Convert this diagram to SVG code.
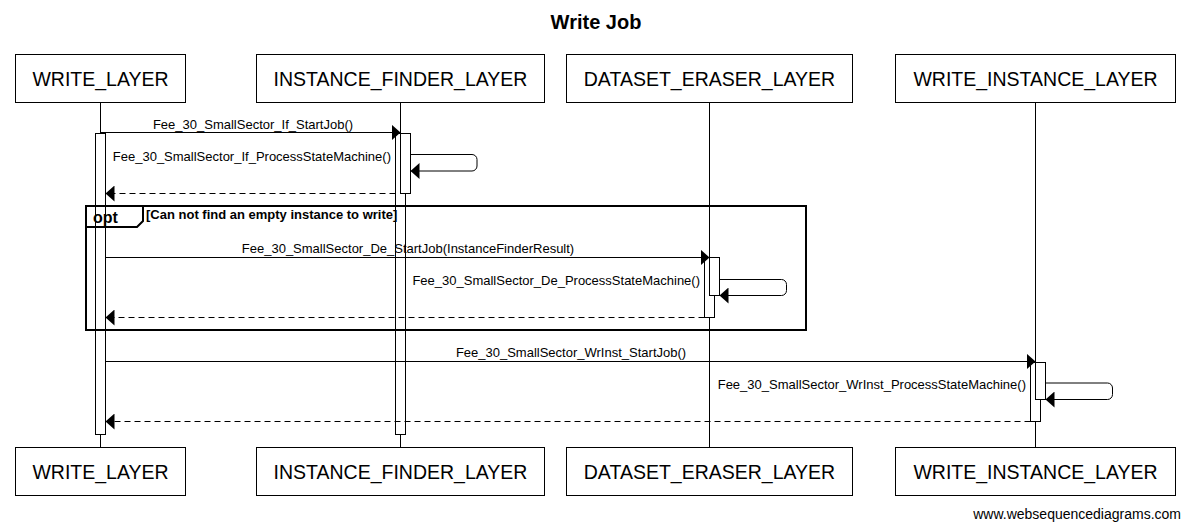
<svg xmlns="http://www.w3.org/2000/svg" width="1190" height="530" viewBox="0 0 1190 530">
<style>
.box{fill:#fff;stroke:#000;stroke-width:1}
.pt{font-family:"Liberation Sans",Arial,sans-serif;font-size:19.5px;fill:#000;text-anchor:middle}
.life{stroke:#000;stroke-width:1}
.bar{fill:#fff;stroke:#000;stroke-width:1}
.msg{stroke:#000;stroke-width:1;fill:none;marker-end:url(#ah)}
.ret{stroke:#000;stroke-width:1;fill:none;stroke-dasharray:6,4;marker-end:url(#ah)}
.lbl{font-family:"Liberation Sans",Arial,sans-serif;font-size:13px;fill:#000}
.mid{text-anchor:middle}
.end{text-anchor:end}
.frame{fill:none;stroke:#000;stroke-width:2}
</style>
<defs>
<marker id="ah" markerWidth="10" markerHeight="16" refX="9" refY="8" orient="auto" markerUnits="userSpaceOnUse"><path d="M0,0 L9,8 L0,16 z" fill="#000"/></marker>
</defs>
<rect width="1190" height="530" fill="#fff"/>
<text x="596" y="29" font-family="Liberation Sans,Arial,sans-serif" font-size="20px" font-weight="bold" text-anchor="middle">Write Job</text>

<g id="lifelines">
<line class="life" x1="100.5" y1="102" x2="100.5" y2="447"/>
<line class="life" x1="400.5" y1="102" x2="400.5" y2="447"/>
<line class="life" x1="709.5" y1="102" x2="709.5" y2="447"/>
<line class="life" x1="1035.5" y1="102" x2="1035.5" y2="447"/>
</g>

<g id="WRITE_LAYER">
<rect class="box" x="15.5" y="54.5" width="170" height="48"/>
<text class="pt" x="100.5" y="86">WRITE_LAYER</text>
<rect class="box" x="15.5" y="447.5" width="170" height="48"/>
<text class="pt" x="100.5" y="479">WRITE_LAYER</text>
</g>
<g id="INSTANCE_FINDER_LAYER">
<rect class="box" x="256.5" y="54.5" width="288" height="48"/>
<text class="pt" x="400.5" y="86">INSTANCE_FINDER_LAYER</text>
<rect class="box" x="256.5" y="447.5" width="288" height="48"/>
<text class="pt" x="400.5" y="479">INSTANCE_FINDER_LAYER</text>
</g>
<g id="DATASET_ERASER_LAYER">
<rect class="box" x="566.5" y="54.5" width="286" height="48"/>
<text class="pt" x="709.5" y="86">DATASET_ERASER_LAYER</text>
<rect class="box" x="566.5" y="447.5" width="286" height="48"/>
<text class="pt" x="709.5" y="479">DATASET_ERASER_LAYER</text>
</g>
<g id="WRITE_INSTANCE_LAYER">
<rect class="box" x="895.5" y="54.5" width="280" height="48"/>
<text class="pt" x="1035.5" y="86">WRITE_INSTANCE_LAYER</text>
<rect class="box" x="895.5" y="447.5" width="280" height="48"/>
<text class="pt" x="1035.5" y="479">WRITE_INSTANCE_LAYER</text>
</g>

<g id="activations">
<rect class="bar" x="95.5" y="133.5" width="10" height="301"/>
<rect class="bar" x="395.5" y="133.5" width="10" height="301"/>
<rect class="bar" x="400.5" y="133.5" width="10" height="60"/>
<rect class="bar" x="704.5" y="257.5" width="10" height="60"/>
<rect class="bar" x="709.5" y="257.5" width="10" height="38"/>
<rect class="bar" x="1030.5" y="362.5" width="10" height="59"/>
<rect class="bar" x="1035.5" y="362.5" width="10" height="37"/>
</g>

<g id="opt">
<rect class="frame" x="86" y="206" width="720" height="124"/>
<path class="frame" d="M86,227 H137 L143,221 V206"/>
<text x="93" y="223" font-family="Liberation Sans,Arial,sans-serif" font-size="16px" font-weight="bold">opt</text>
<text x="146" y="219" font-family="Liberation Sans,Arial,sans-serif" font-size="13px" font-weight="bold">[Can not find an empty instance to write]</text>
</g>

<g id="connectors">
<line class="msg" x1="100.5" y1="132.5" x2="400.5" y2="132.5"/>
<text class="lbl mid" x="253" y="129">Fee_30_SmallSector_If_StartJob()</text>
<path class="msg" d="M410.5,154.5 H472 A5,5 0 0 1 477,159.5 V166 A5,5 0 0 1 472,171 H410.5"/>
<text class="lbl end" x="391" y="161">Fee_30_SmallSector_If_ProcessStateMachine()</text>
<line class="ret" x1="395.5" y1="193.5" x2="105.5" y2="193.5"/>

<line class="msg" x1="105.5" y1="257.5" x2="709.5" y2="257.5"/>
<text class="lbl mid" x="408" y="253">Fee_30_SmallSector_De_StartJob(InstanceFinderResult)</text>
<path class="msg" d="M719.5,279.5 H781.5 A5,5 0 0 1 786.5,284.5 V290.5 A5,5 0 0 1 781.5,295.5 H719.5"/>
<text class="lbl end" x="700" y="285">Fee_30_SmallSector_De_ProcessStateMachine()</text>
<line class="ret" x1="704.5" y1="317.5" x2="105.5" y2="317.5"/>

<line class="msg" x1="105.5" y1="361.5" x2="1035.5" y2="361.5"/>
<text class="lbl mid" x="571" y="357">Fee_30_SmallSector_WrInst_StartJob()</text>
<path class="msg" d="M1045.5,383 H1107.5 A5,5 0 0 1 1112.5,388 V394.5 A5,5 0 0 1 1107.5,399.5 H1045.5"/>
<text class="lbl end" x="1026" y="389">Fee_30_SmallSector_WrInst_ProcessStateMachine()</text>
<line class="ret" x1="1030.5" y1="421.5" x2="105.5" y2="421.5"/>
</g>

<text x="1181" y="519" font-family="Liberation Sans,Arial,sans-serif" font-size="14px" text-anchor="end">www.websequencediagrams.com</text>
</svg>
